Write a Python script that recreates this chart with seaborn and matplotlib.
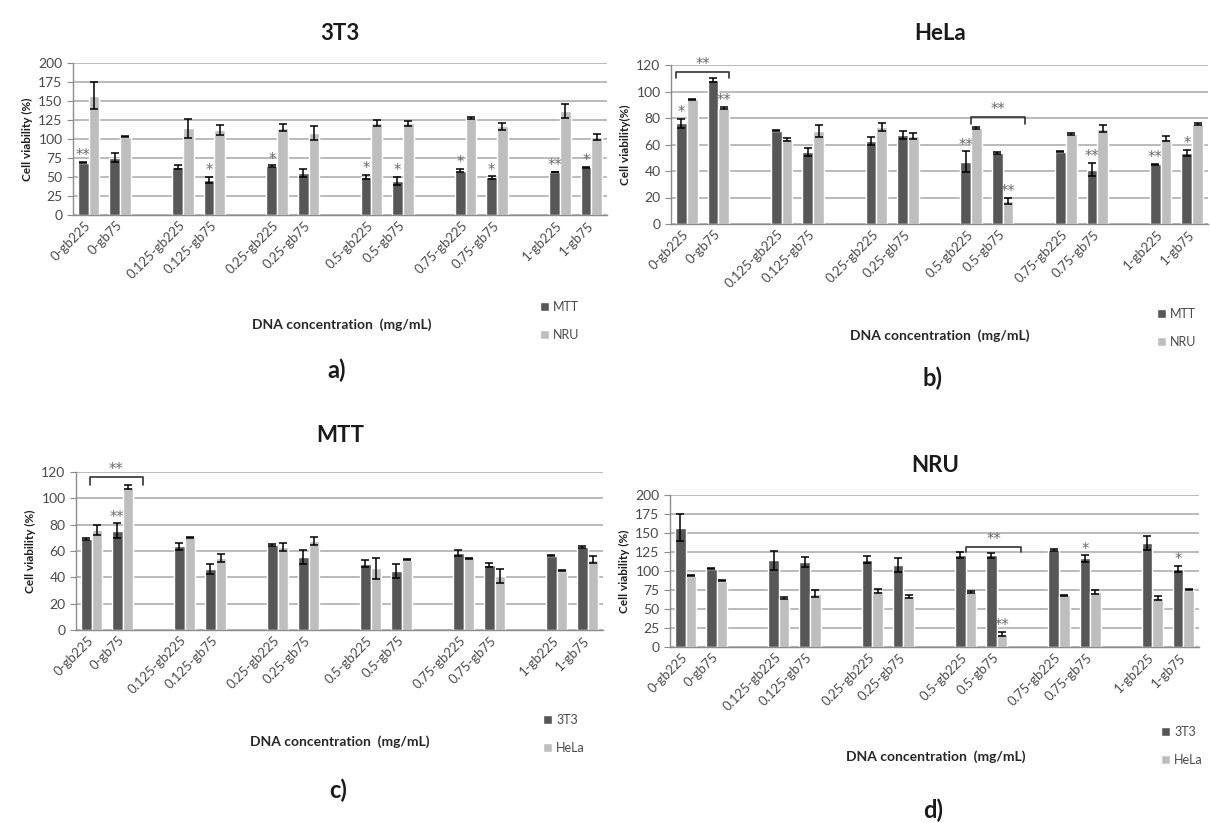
import matplotlib
matplotlib.use("Agg")
import matplotlib.pyplot as plt
import matplotlib.transforms as mtransforms
import numpy as np
import pandas as pd
import seaborn as sns

# sample labels (DNA concentration - gelatin bloom)
LABELS = ["0-gb225", "0-gb75", "0.125-gb225", "0.125-gb75", "0.25-gb225", "0.25-gb75",
          "0.5-gb225", "0.5-gb75", "0.75-gb225", "0.75-gb75", "1-gb225", "1-gb75"]

# cell viability (%), with the error bar half-lengths
MTT_3T3 = [69, 75.5, 63.5, 46.5, 64.5, 55.5, 50.5, 45, 58.5, 49.5, 56.5, 63]
MTT_3T3_SD = [1, 5.5, 2.5, 4, 1, 5.5, 2.5, 5.5, 2, 1.5, 0.5, 0.8]
MTT_HELA = [76, 108.5, 70.5, 54.5, 63, 67.5, 47, 53.5, 54.5, 41, 45, 53.5]
MTT_HELA_SD = [3.5, 1.5, 0.3, 3, 3, 3, 8, 0.5, 0.5, 5, 0.5, 2.5]
NRU_3T3 = [157, 103, 114, 112, 115, 108, 121, 120.5, 127.5, 116.5, 136.5, 103]
NRU_3T3_SD = [18, 1, 12.5, 7, 5, 9, 4, 3.5, 1.5, 4, 9, 4]
NRU_HELA = [94, 87.5, 64, 70, 73.5, 66.5, 72.5, 17.5, 68, 72, 64.5, 75.5]
NRU_HELA_SD = [0.5, 1, 1.2, 4.5, 3, 2.5, 1, 2.5, 1, 2.5, 2, 1]

# significance marks: (sample, series index, text)
STARS_A = [("0-gb225", 0, "**"), ("0.125-gb75", 0, "*"), ("0.25-gb225", 0, "*"),
           ("0.5-gb225", 0, "*"), ("0.5-gb75", 0, "*"), ("0.75-gb225", 0, "*"),
           ("0.75-gb75", 0, "*"), ("1-gb225", 0, "**"), ("1-gb75", 0, "*")]
STARS_B = [("0-gb225", 0, "*"), ("0-gb75", 1, "**"), ("0.5-gb225", 0, "**"),
           ("0.5-gb75", 1, "**"), ("0.75-gb75", 0, "**"), ("1-gb225", 0, "**"),
           ("1-gb75", 0, "*")]
STARS_C = [("0-gb75", 0, "**")]
STARS_D = [("0.5-gb75", 1, "**"), ("0.75-gb75", 0, "*"), ("1-gb75", 0, "*")]

# brackets: (from sample, x offset, to sample, x offset, height, drop)
BRACKETS_B = [("0-gb225", -0.34, "0-gb75", 0.34, 115, 5),
              ("0.5-gb225", 0.0, "0.5-gb75", 0.72, 80.5, 5)]
BRACKETS_C = [("0-gb225", -0.05, "0-gb75", 0.65, 116, 6)]
BRACKETS_D = [("0.5-gb225", 0.0, "0.5-gb75", 0.79, 132, 7)]

DARK = "#575757"
LIGHT = "#BEBEBE"
GRID = "#A8A8A8"
STAR = "#6A6A6A"
W, H = 1210, 823

sns.set_style("white")
plt.rcParams["font.family"] = ["Lato", "DejaVu Sans"]

# category order with empty spacer slots between concentrations
ORDER = []
for i in range(0, len(LABELS), 2):
    ORDER += LABELS[i:i + 2]
    if i + 2 < len(LABELS):
        ORDER.append(" " * (i // 2 + 1))


def px_rect(left, right, top, bottom):
    return [left / W, 1 - bottom / H, (right - left) / W, (bottom - top) / H]


def draw_panel(fig, rect, title, series, values, errs, ymax, ystep, ylabel,
               stars, brackets, title_xy, xlabel_xy, tag, tag_xy, legend_xy):
    ax = fig.add_axes(px_rect(*rect))
    df = pd.DataFrame({
        "sample": LABELS * 2,
        "series": [series[0]] * len(LABELS) + [series[1]] * len(LABELS),
        "value": list(values[0]) + list(values[1]),
        "sd": list(errs[0]) + list(errs[1]),
    })
    sns.barplot(data=df, x="sample", y="value", hue="series", order=ORDER,
                hue_order=series, palette=[DARK, LIGHT], width=0.68, gap=0,
                errorbar=None, saturation=1, ax=ax)

    # error bars placed on the drawn bars
    sd_lookup = {(s, h): e for s, h, e in zip(df["sample"], df["series"], df["sd"])}
    bar_pos = {}
    for k, cont in enumerate(ax.containers):
        for p in cont.patches:
            xc = p.get_x() + p.get_width() / 2
            sample = ORDER[int(round(xc))]
            bar_pos[(sample, k)] = (xc, p.get_height())
    xs, ys, es = [], [], []
    for (sample, k), (xc, h) in bar_pos.items():
        xs.append(xc)
        ys.append(h)
        es.append(sd_lookup[(sample, series[k])])
    ax.errorbar(xs, ys, yerr=es, fmt="none", ecolor="black", elinewidth=1.1,
                capsize=2.6, capthick=1.1, zorder=4)

    for sample, k, txt in stars:
        xc, h = bar_pos[(sample, k)]
        top = h + sd_lookup[(sample, series[k])]
        ax.annotate(txt, (xc, top), xytext=(0, -1), textcoords="offset points",
                    ha="center", va="bottom", fontsize=10.5, color=STAR,
                    family="DejaVu Sans", annotation_clip=False)

    for s0, o0, s1, o1, yb, drop in brackets:
        x0 = ORDER.index(s0) + o0
        x1 = ORDER.index(s1) + o1
        ax.plot([x0, x0, x1, x1], [yb - drop, yb, yb, yb - drop], color="#333333",
                lw=1.2, clip_on=False, zorder=5)
        ax.annotate("**", ((x0 + x1) / 2, yb), xytext=(0, 0), textcoords="offset points",
                    ha="center", va="bottom", fontsize=10.5, color=STAR,
                    family="DejaVu Sans", annotation_clip=False)

    ax.set_ylim(0, ymax)
    ax.set_xlim(-0.5, len(ORDER) - 0.5)
    ax.set_yticks(np.arange(0, ymax + 1, ystep))
    ax.yaxis.grid(True, color=GRID, lw=1.1)
    ax.set_axisbelow(True)
    for side in ("top", "right"):
        ax.spines[side].set_visible(False)
    for side in ("left", "bottom"):
        ax.spines[side].set_color("#8C8C8C")
        ax.spines[side].set_linewidth(1.0)

    ax.set_xticks(range(len(ORDER)))
    ax.set_xticklabels(ORDER, rotation=45, ha="right", va="center",
                       rotation_mode="anchor", fontsize=9.5, color="#4A4A4A")
    shift = mtransforms.ScaledTranslation(5 / 72, -3 / 72, fig.dpi_scale_trans)
    for lbl in ax.get_xticklabels():
        lbl.set_transform(lbl.get_transform() + shift)
    ax.set_xticks(np.arange(-0.5, len(ORDER), 1), minor=True)
    ax.tick_params(axis="x", which="major", length=0, pad=6)
    ax.tick_params(axis="x", which="minor", length=4, color="#8C8C8C", direction="out")
    ax.tick_params(axis="y", length=4, color="#8C8C8C", direction="out",
                   labelsize=10, labelcolor="#4A4A4A", left=True)
    ax.set_xlabel("")
    ax.set_ylabel(ylabel, fontsize=8.5, fontweight="bold", color="#1E1E1E", labelpad=4)

    sns.move_legend(ax, "upper left", bbox_to_anchor=(legend_xy[0] / W, 1 - legend_xy[1] / H),
                    bbox_transform=fig.transFigure, frameon=False, title=None,
                    fontsize=9, labelspacing=1.25, handlelength=0.75, handleheight=0.75,
                    handletextpad=0.3, borderaxespad=0, borderpad=0)
    for t in ax.get_legend().get_texts():
        t.set_color("#4A4A4A")

    fig.text(title_xy[0] / W, 1 - title_xy[1] / H, title, ha="center", va="center",
             fontsize=16, fontweight="bold", color="#1A1A1A")
    fig.text(xlabel_xy[0] / W, 1 - xlabel_xy[1] / H, "DNA concentration  (mg/mL)",
             ha="center", va="center", fontsize=10, fontweight="bold", color="#262626")
    fig.text(tag_xy[0] / W, 1 - tag_xy[1] / H, tag, ha="center", va="center",
             fontsize=17, fontweight="bold", color="#1A1A1A")
    return ax


fig = plt.figure(figsize=(W / 100, H / 100), dpi=100)

draw_panel(fig, (73, 607, 63, 215), "3T3", ["MTT", "NRU"], [MTT_3T3, NRU_3T3],
           [MTT_3T3_SD, NRU_3T3_SD], 200, 25, "Cell viability (%)", STARS_A, [],
           (340, 33), (342, 325), "a)", (337, 370), (540, 301))
draw_panel(fig, (671, 1208, 65, 224), "HeLa", ["MTT", "NRU"], [MTT_HELA, NRU_HELA],
           [MTT_HELA_SD, NRU_HELA_SD], 120, 20, "Cell viability(%)", STARS_B, BRACKETS_B,
           (940, 33), (940, 336), "b)", (932, 378), (1157, 308))
draw_panel(fig, (76, 603, 472, 630), "MTT", ["3T3", "HeLa"], [MTT_3T3, MTT_HELA],
           [MTT_3T3_SD, MTT_HELA_SD], 120, 20, "Cell viability (%)", STARS_C, BRACKETS_C,
           (340, 435), (340, 742), "c)", (338, 790), (543, 714))
draw_panel(fig, (670, 1199, 495, 647), "NRU", ["3T3", "HeLa"], [NRU_3T3, NRU_HELA],
           [NRU_3T3_SD, NRU_HELA_SD], 200, 25, "Cell viability (%)", STARS_D, BRACKETS_D,
           (935, 466), (936, 757), "d)", (933, 810), (1161, 726))

fig.savefig("out.png", dpi=100)
